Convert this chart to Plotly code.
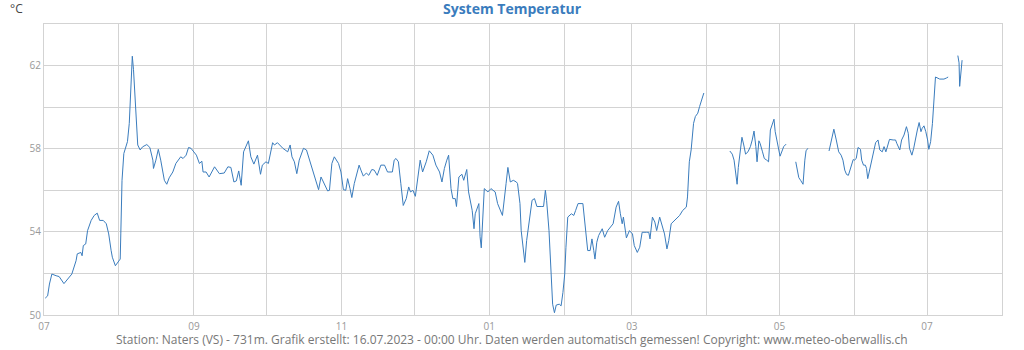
import pandas as pd
import plotly.graph_objects as go

# System temperature readings (°C), grouped by period
jul_sep_dates = [
    "2022-07-01 12:00", "2022-07-02 12:00", "2022-07-03 06:00", "2022-07-04 06:00", "2022-07-06 00:00",
    "2022-07-07 06:00", "2022-07-09 06:00", "2022-07-10 18:00", "2022-07-12 12:00", "2022-07-14 06:00",
    "2022-07-14 18:00", "2022-07-16 06:00", "2022-07-16 18:00", "2022-07-17 06:00", "2022-07-18 06:00",
    "2022-07-19 00:00", "2022-07-20 12:00", "2022-07-21 18:00", "2022-07-23 00:00", "2022-07-24 00:00",
    "2022-07-25 12:00", "2022-07-26 18:00", "2022-07-27 18:00", "2022-07-28 18:00", "2022-07-29 06:00",
    "2022-07-30 12:00", "2022-07-31 12:00", "2022-08-01 12:00", "2022-08-01 18:00", "2022-08-02 06:00",
    "2022-08-03 00:00", "2022-08-03 18:00", "2022-08-04 12:00", "2022-08-05 06:00", "2022-08-06 00:00",
    "2022-08-06 06:00", "2022-08-06 12:00", "2022-08-07 00:00", "2022-08-07 12:00", "2022-08-08 00:00",
    "2022-08-08 18:00", "2022-08-09 18:00", "2022-08-10 18:00", "2022-08-12 12:00", "2022-08-13 18:00",
    "2022-08-15 00:00", "2022-08-15 06:00", "2022-08-16 06:00", "2022-08-17 06:00", "2022-08-18 06:00",
    "2022-08-19 18:00", "2022-08-20 18:00", "2022-08-21 18:00", "2022-08-23 06:00", "2022-08-24 12:00",
    "2022-08-26 12:00", "2022-08-27 12:00", "2022-08-28 18:00", "2022-08-29 18:00", "2022-08-30 18:00",
    "2022-09-01 00:00", "2022-09-02 00:00", "2022-09-03 06:00", "2022-09-04 06:00", "2022-09-04 18:00",
    "2022-09-06 00:00", "2022-09-07 06:00", "2022-09-09 12:00", "2022-09-11 12:00", "2022-09-13 12:00",
    "2022-09-15 00:00", "2022-09-16 06:00", "2022-09-17 12:00", "2022-09-18 12:00", "2022-09-19 12:00",
    "2022-09-20 12:00", "2022-09-21 12:00", "2022-09-23 12:00", "2022-09-24 12:00", "2022-09-25 18:00",
    "2022-09-27 06:00", "2022-09-28 12:00", "2022-09-29 06:00", "2022-09-30 18:00",
]
jul_sep_temps = [
    50.81, 50.92, 51.49, 51.97, 51.89, 51.85, 51.51, 51.72, 51.97, 52.61,
    52.94, 53.01, 52.85, 53.34, 53.42, 54.06, 54.55, 54.79, 54.90, 54.55,
    54.55, 54.39, 53.90, 53.10, 52.78, 52.37, 52.53, 52.69, 53.90, 56.48,
    57.77, 58.09, 58.34, 59.22, 60.84, 61.80, 62.45, 61.80, 60.84, 59.40,
    58.18, 57.94, 58.09, 58.20, 58.06, 57.45, 57.05, 57.45, 57.97, 57.45,
    56.48, 56.29, 56.60, 56.88, 57.29, 57.61, 57.53, 57.69, 58.06, 58.02,
    57.85, 57.69, 57.29, 57.40, 56.88, 56.88, 56.64, 57.13, 56.80, 56.83,
    57.13, 57.10, 56.40, 56.45, 56.93, 56.24, 57.85, 58.38, 57.61, 57.26,
    57.69, 56.77, 57.21, 57.37,
]

oct_dec_dates = [
    "2022-10-01 18:00", "2022-10-02 12:00", "2022-10-03 12:00", "2022-10-04 06:00", "2022-10-05 12:00",
    "2022-10-07 18:00", "2022-10-09 18:00", "2022-10-10 18:00", "2022-10-11 12:00", "2022-10-12 12:00",
    "2022-10-13 12:00", "2022-10-14 12:00", "2022-10-16 06:00", "2022-10-17 12:00", "2022-10-18 18:00",
    "2022-10-20 00:00", "2022-10-21 12:00", "2022-10-22 12:00", "2022-10-23 12:00", "2022-10-25 00:00",
    "2022-10-26 06:00", "2022-10-27 00:00", "2022-10-28 00:00", "2022-10-29 00:00", "2022-10-30 00:00",
    "2022-10-30 18:00", "2022-10-31 18:00", "2022-11-01 18:00", "2022-11-02 18:00", "2022-11-03 12:00",
    "2022-11-04 12:00", "2022-11-05 06:00", "2022-11-06 06:00", "2022-11-07 06:00", "2022-11-08 06:00",
    "2022-11-09 00:00", "2022-11-10 00:00", "2022-11-11 06:00", "2022-11-12 06:00", "2022-11-13 12:00",
    "2022-11-14 12:00", "2022-11-15 18:00", "2022-11-17 06:00", "2022-11-18 18:00", "2022-11-20 00:00",
    "2022-11-22 00:00", "2022-11-22 18:00", "2022-11-23 12:00", "2022-11-24 12:00", "2022-11-25 12:00",
    "2022-11-26 12:00", "2022-11-27 18:00", "2022-11-28 18:00", "2022-11-29 12:00", "2022-11-30 12:00",
    "2022-12-01 12:00", "2022-12-02 12:00", "2022-12-03 12:00", "2022-12-04 12:00", "2022-12-06 00:00",
    "2022-12-07 06:00", "2022-12-08 18:00", "2022-12-10 00:00", "2022-12-11 12:00", "2022-12-12 12:00",
    "2022-12-13 12:00", "2022-12-14 12:00", "2022-12-15 06:00", "2022-12-16 06:00", "2022-12-17 00:00",
    "2022-12-18 00:00", "2022-12-18 12:00", "2022-12-19 12:00", "2022-12-20 18:00", "2022-12-21 12:00",
    "2022-12-22 18:00", "2022-12-23 12:00", "2022-12-25 00:00", "2022-12-25 18:00", "2022-12-26 06:00",
    "2022-12-27 18:00", "2022-12-28 06:00", "2022-12-28 18:00", "2022-12-29 00:00", "2022-12-30 00:00",
    "2022-12-31 12:00",
]
oct_dec_temps = [
    57.29, 57.77, 58.29, 58.18, 58.29, 58.02, 57.85, 58.18, 57.61, 57.37,
    56.80, 57.45, 58.02, 57.94, 57.45, 56.97, 56.40, 56.03, 56.64, 56.24,
    55.97, 56.00, 57.29, 57.61, 57.42, 57.29, 56.88, 56.03, 56.00, 56.56,
    56.08, 55.65, 56.32, 56.80, 57.21, 56.97, 56.68, 56.83, 56.72, 57.00,
    56.97, 56.72, 57.21, 57.21, 56.88, 56.88, 57.45, 57.53, 57.37, 56.32,
    55.27, 55.60, 56.16, 55.92, 56.00, 55.71, 56.64, 57.45, 56.88, 57.37,
    57.90, 57.69, 57.21, 56.88, 56.40, 57.05, 57.45, 57.69, 56.08, 55.60,
    55.60, 55.22, 56.64, 56.77, 56.48, 57.00, 55.92, 55.03, 54.15, 54.87,
    55.36, 53.77, 53.23, 53.74, 56.08, 55.92,
]

jan_mar_dates = [
    "2023-01-01 18:00", "2023-01-03 12:00", "2023-01-04 12:00", "2023-01-06 12:00", "2023-01-07 06:00",
    "2023-01-08 00:00", "2023-01-08 18:00", "2023-01-09 18:00", "2023-01-11 00:00", "2023-01-12 06:00",
    "2023-01-12 18:00", "2023-01-13 18:00", "2023-01-14 06:00", "2023-01-15 00:00", "2023-01-15 18:00",
    "2023-01-16 12:00", "2023-01-17 18:00", "2023-01-18 18:00", "2023-01-19 18:00", "2023-01-20 18:00",
    "2023-01-22 12:00", "2023-01-23 12:00", "2023-01-24 06:00", "2023-01-24 18:00", "2023-01-25 18:00",
    "2023-01-26 18:00", "2023-01-27 06:00", "2023-01-28 00:00", "2023-01-28 18:00", "2023-01-30 00:00",
    "2023-01-30 18:00", "2023-01-31 12:00", "2023-02-01 06:00", "2023-02-01 18:00", "2023-02-02 12:00",
    "2023-02-04 00:00", "2023-02-05 00:00", "2023-02-05 18:00", "2023-02-06 18:00", "2023-02-08 18:00",
    "2023-02-09 12:00", "2023-02-10 06:00", "2023-02-10 18:00", "2023-02-11 18:00", "2023-02-12 12:00",
    "2023-02-13 06:00", "2023-02-13 18:00", "2023-02-14 12:00", "2023-02-15 06:00", "2023-02-16 18:00",
    "2023-02-17 18:00", "2023-02-19 00:00", "2023-02-20 12:00", "2023-02-21 06:00", "2023-02-22 12:00",
    "2023-02-23 12:00", "2023-02-24 06:00", "2023-02-25 00:00", "2023-02-25 12:00", "2023-02-26 18:00",
    "2023-02-28 00:00", "2023-03-01 06:00", "2023-03-02 00:00", "2023-03-03 06:00", "2023-03-04 06:00",
    "2023-03-05 06:00", "2023-03-07 00:00", "2023-03-08 00:00", "2023-03-08 12:00", "2023-03-09 12:00",
    "2023-03-10 12:00", "2023-03-11 06:00", "2023-03-12 12:00", "2023-03-13 12:00", "2023-03-14 12:00",
    "2023-03-15 12:00", "2023-03-16 06:00", "2023-03-17 06:00", "2023-03-19 06:00", "2023-03-20 18:00",
    "2023-03-22 00:00", "2023-03-23 12:00", "2023-03-24 00:00", "2023-03-24 12:00", "2023-03-24 18:00",
    "2023-03-25 12:00", "2023-03-26 00:00", "2023-03-26 12:00", "2023-03-27 06:00", "2023-03-28 06:00",
    "2023-03-29 00:00", "2023-03-29 18:00", "2023-03-30 18:00",
]
jan_mar_temps = [
    56.08, 55.92, 55.36, 54.79, 55.43, 56.32, 57.10, 56.40, 56.48, 56.40,
    56.32, 55.36, 54.06, 53.10, 52.53, 53.58, 54.55, 55.52, 55.60, 55.22,
    55.22, 55.22, 56.00, 55.52, 54.06, 51.97, 50.52, 50.11, 50.48, 50.52,
    50.44, 51.08, 51.97, 53.26, 54.71, 54.87, 54.79, 55.03, 55.36, 55.36,
    54.55, 53.66, 53.10, 53.10, 53.66, 53.10, 52.69, 53.50, 53.82, 54.15,
    53.74, 54.06, 54.26, 54.39, 55.19, 55.47, 54.87, 54.39, 54.71, 53.71,
    54.06, 53.90, 53.34, 53.01, 53.26, 53.98, 53.98, 53.98, 53.66, 54.71,
    54.47, 54.06, 54.71, 54.31, 53.90, 53.18, 53.58, 54.39, 54.63, 54.79,
    55.03, 55.19, 55.68, 56.72, 57.37, 57.94, 58.58, 59.22, 59.55, 59.71,
    60.03, 60.35, 60.68,
]

apr_dates = [
    "2023-04-10 12:00", "2023-04-11 12:00", "2023-04-12 06:00", "2023-04-12 18:00", "2023-04-13 12:00",
    "2023-04-14 00:00", "2023-04-14 18:00", "2023-04-15 12:00", "2023-04-16 06:00", "2023-04-17 00:00",
    "2023-04-18 00:00", "2023-04-19 00:00", "2023-04-19 18:00", "2023-04-20 12:00", "2023-04-21 06:00",
    "2023-04-21 18:00", "2023-04-22 12:00", "2023-04-23 00:00", "2023-04-24 00:00", "2023-04-24 18:00",
    "2023-04-25 18:00", "2023-04-26 12:00", "2023-04-27 06:00", "2023-04-28 06:00", "2023-04-28 18:00",
    "2023-04-29 06:00", "2023-04-30 00:00", "2023-04-30 18:00", "2023-05-01 06:00", "2023-05-02 06:00",
    "2023-05-02 18:00", "2023-05-03 18:00",
]
apr_temps = [
    57.89, 57.74, 57.45, 57.05, 56.29, 57.10, 57.74, 58.55, 58.18, 57.74,
    57.85, 58.10, 58.42, 58.85, 58.10, 57.37, 58.38, 58.26, 57.85, 57.53,
    57.45, 57.37, 58.90, 59.30, 59.42, 58.82, 58.34, 57.85, 57.64, 57.94,
    58.10, 58.22,
]

may_dates = [
    "2023-05-07 18:00", "2023-05-08 06:00", "2023-05-09 00:00", "2023-05-09 18:00", "2023-05-10 18:00",
    "2023-05-11 12:00", "2023-05-12 00:00", "2023-05-12 18:00",
]
may_temps = [57.37, 56.97, 56.61, 56.48, 56.29, 57.45, 57.90, 58.02]

jun_dates = [
    "2023-05-21 12:00", "2023-05-22 12:00", "2023-05-23 12:00", "2023-05-24 12:00", "2023-05-25 12:00",
    "2023-05-26 12:00", "2023-05-27 06:00", "2023-05-28 00:00", "2023-05-28 18:00", "2023-05-29 12:00",
    "2023-05-30 06:00", "2023-05-31 12:00", "2023-06-01 00:00", "2023-06-01 18:00", "2023-06-02 12:00",
    "2023-06-03 12:00", "2023-06-04 00:00", "2023-06-04 18:00", "2023-06-05 12:00", "2023-06-06 00:00",
    "2023-06-06 12:00", "2023-06-07 06:00", "2023-06-08 00:00", "2023-06-09 00:00", "2023-06-09 18:00",
    "2023-06-10 18:00", "2023-06-11 12:00", "2023-06-12 12:00", "2023-06-13 06:00", "2023-06-14 00:00",
    "2023-06-14 18:00", "2023-06-15 12:00", "2023-06-17 00:00", "2023-06-18 00:00", "2023-06-18 12:00",
    "2023-06-19 18:00", "2023-06-20 12:00", "2023-06-21 12:00", "2023-06-22 12:00", "2023-06-23 06:00",
    "2023-06-23 18:00", "2023-06-24 18:00", "2023-06-25 12:00", "2023-06-26 06:00", "2023-06-27 00:00",
    "2023-06-27 18:00", "2023-06-28 12:00", "2023-06-29 00:00", "2023-06-29 18:00", "2023-06-30 12:00",
    "2023-07-01 06:00", "2023-07-01 18:00", "2023-07-02 12:00", "2023-07-03 06:00", "2023-07-04 00:00",
    "2023-07-04 12:00", "2023-07-06 06:00", "2023-07-08 00:00", "2023-07-09 00:00", "2023-07-09 18:00",
]
jun_temps = [
    57.89, 58.42, 58.94, 58.42, 57.85, 57.69, 57.45, 56.97, 56.76, 56.72,
    57.05, 57.48, 57.45, 57.53, 58.06, 57.97, 57.45, 57.21, 57.21, 57.05,
    56.56, 56.97, 57.37, 58.02, 58.29, 58.42, 57.94, 57.85, 58.10, 57.85,
    58.18, 58.45, 58.42, 58.42, 58.26, 57.94, 58.42, 58.66, 59.06, 58.74,
    58.02, 57.69, 58.02, 58.50, 58.90, 59.26, 58.82, 58.98, 59.10, 58.82,
    58.42, 57.97, 58.34, 59.22, 60.35, 61.45, 61.35, 61.35, 61.40, 61.45,
]

jul_dates = ["2023-07-13 18:00", "2023-07-14 06:00", "2023-07-14 12:00", "2023-07-15 00:00", "2023-07-15 12:00"]
jul_temps = [62.48, 62.13, 61.00, 61.80, 62.26]

# (dates, temps, recording gap before this block)
blocks = [
    (jul_sep_dates, jul_sep_temps, False),
    (oct_dec_dates, oct_dec_temps, False),
    (jan_mar_dates, jan_mar_temps, False),
    (apr_dates, apr_temps, True),
    (may_dates, may_temps, True),
    (jun_dates, jun_temps, True),
    (jul_dates, jul_temps, True),
]

month_ticks = pd.date_range("2022-07-01", "2023-08-01", freq="MS")
month_labels = ["07", "", "09", "", "11", "", "01", "", "03", "", "05", "", "07", ""]
temp_ticks = [50, 52, 54, 56, 58, 60, 62, 64]
temp_labels = ["50", "", "54", "", "58", "", "62", ""]

x_vals, y_vals = [], []
for dates, temps, gap_before in blocks:
    if gap_before:
        x_vals.append(dates[0])
        y_vals.append(None)
    x_vals.extend(dates)
    y_vals.extend(temps)

LINE_BLUE = "#3a7cbd"
GRID = "#d3d3d3"
FONT = "Open Sans"

fig = go.Figure(
    go.Scatter(
        x=pd.to_datetime(x_vals),
        y=y_vals,
        mode="lines",
        line=dict(color=LINE_BLUE, width=1),
        connectgaps=False,
        showlegend=False,
    )
)

axis_style = dict(
    tickmode="array",
    showgrid=True,
    gridcolor=GRID,
    gridwidth=1,
    showline=True,
    linecolor=GRID,
    linewidth=1,
    mirror=True,
    ticks="",
    zeroline=False,
    tickfont=dict(family=FONT, size=10, color="#999999"),
)

fig.update_layout(
    width=1024,
    height=350,
    margin=dict(l=44, r=22, t=24, b=35),
    paper_bgcolor="white",
    plot_bgcolor="white",
    font=dict(family=FONT, color="#999999", size=10),
    title=dict(
        text="<b>System Temperatur</b>",
        font=dict(family=FONT, size=14, color=LINE_BLUE),
        x=0.5, xref="container", xanchor="center",
        y=1 - 9 / 350, yref="container", yanchor="middle",
    ),
    xaxis=dict(
        range=["2022-07-01", "2023-08-01"],
        tickvals=month_ticks,
        ticktext=month_labels,
        ticklabelstandoff=2,
        **axis_style,
    ),
    yaxis=dict(
        range=[50, 64],
        tickvals=temp_ticks,
        ticktext=temp_labels,
        **axis_style,
    ),
    annotations=[
        dict(
            text="°C",
            xref="paper", yref="paper",
            x=-28 / 958, y=1 + 15 / 291,
            xanchor="center", yanchor="middle",
            showarrow=False,
            font=dict(family=FONT, size=12, color="#444444"),
        ),
        dict(
            text="Station: Naters (VS) - 731m. Grafik erstellt: 16.07.2023 - 00:00 Uhr. "
                 "Daten werden automatisch gemessen! Copyright: www.meteo-oberwallis.ch",
            xref="paper", yref="paper",
            x=468 / 958, y=-24 / 291,
            xanchor="center", yanchor="middle",
            showarrow=False,
            font=dict(family=FONT, size=12, color="#777777"),
        ),
    ],
)

fig.write_html("out.html")
